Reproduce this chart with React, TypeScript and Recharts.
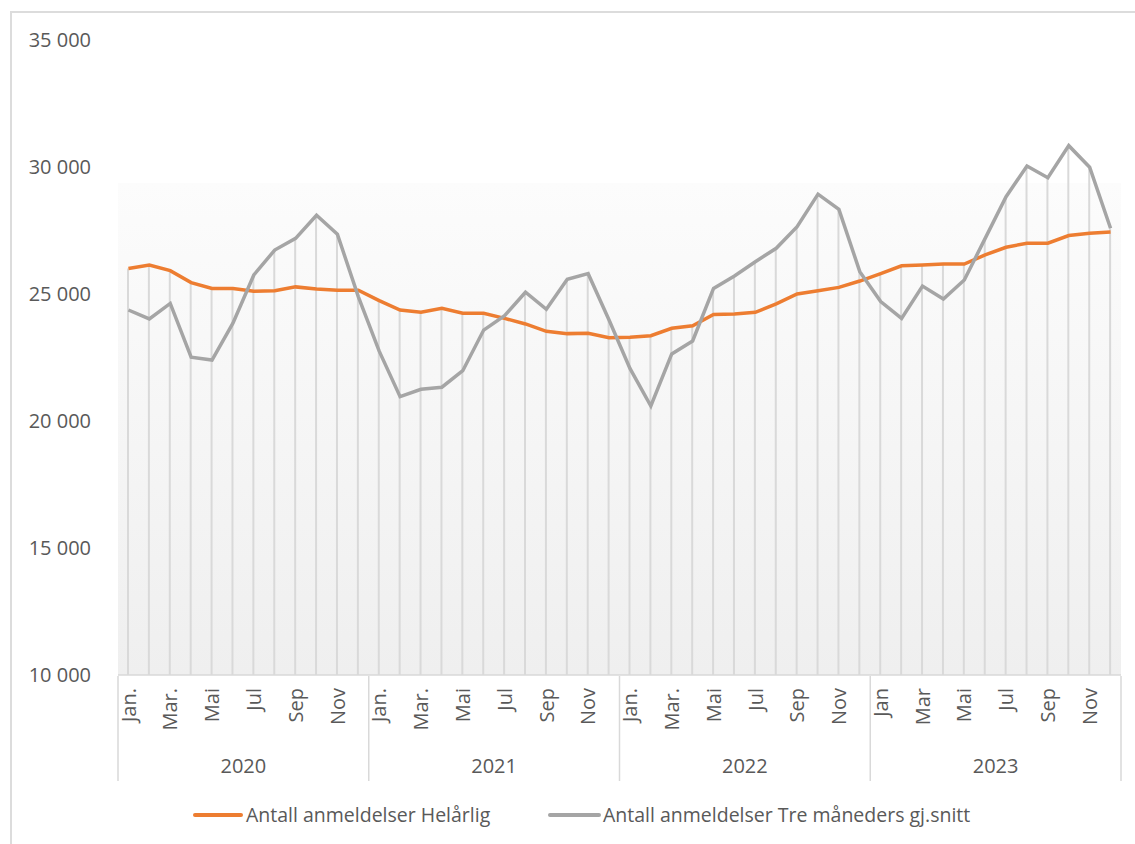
import React from 'react';
import { ComposedChart, Line, Bar, XAxis, YAxis, CartesianGrid, Legend } from 'recharts';

const years = ['2020', '2021', '2022', '2023'];
const monthLabels = ['Jan.', 'Feb.', 'Mar.', 'Apr.', 'Mai', 'Jun', 'Jul', 'Aug', 'Sep', 'Okt', 'Nov', 'Des'];
const monthLabels2023 = ['Jan', 'Feb', 'Mar', 'Apr', 'Mai', 'Jun', 'Jul', 'Aug', 'Sep', 'Okt', 'Nov', 'Des'];

const helarlig = [
  26000, 26140, 25920, 25450, 25220, 25220, 25110, 25130, 25280, 25200, 25150, 25150,
  24740, 24370, 24280, 24440, 24240, 24240, 24040, 23820, 23530, 23440, 23450, 23280,
  23300, 23360, 23650, 23750, 24190, 24210, 24280, 24610, 25000, 25130, 25260, 25510,
  25800, 26110, 26140, 26180, 26180, 26540, 26840, 27000, 27000, 27300, 27390, 27440,
];
const treMnd = [
  24370, 24020, 24630, 22510, 22400, 23850, 25750, 26730, 27190, 28100, 27350, 24900,
  22750, 20960, 21250, 21330, 21980, 23580, 24150, 25070, 24400, 25580, 25800, 23980,
  22070, 20590, 22640, 23150, 25220, 25710, 26270, 26800, 27650, 28930, 28330, 25880,
  24700, 24040, 25310, 24800, 25550, 27190, 28830, 30040, 29580, 30840, 29990, 27590,
];
const seriesNames = ['Antall anmeldelser Helårlig', 'Antall anmeldelser Tre måneders gj.snitt'];
const yTicks = [10000, 15000, 20000, 25000, 30000, 35000];

const data = helarlig.map((h, i) => ({
  key: `${years[Math.floor(i / 12)]}-${i % 12}`,
  helarlig: h,
  treMnd: treMnd[i],
  top: Math.max(h, treMnd[i]),
}));

const FONT = '"Open Sans", sans-serif';
const TEXT = '#595959';
const ORANGE = '#ED7D31';
const GRAY = '#A5A5A5';
const LINE_GRAY = '#d9d9d9';

const fmt = (v: number) => `${Math.floor(v / 1000)} ${String(v % 1000).padStart(3, '0')}`;

const XTick = (props: any) => {
  const { x, y, index, payload } = props;
  const half = payload && typeof payload.offset === 'number' && payload.offset > 0 ? payload.offset : 10.44;
  const yi = Math.floor(index / 12);
  const m = index % 12;
  const label = yi === 3 ? monthLabels2023[m] : monthLabels[m];
  return (
    <g>
      {m % 2 === 0 && (
        <text
          transform={`translate(${x},${y + 13}) rotate(-90)`}
          textAnchor="end"
          dy="0.36em"
          fill={TEXT}
          fontSize={20}
          fontFamily={FONT}
        >
          {label}
        </text>
      )}
      {m === 0 && <line x1={x - half} x2={x - half} y1={y + 1} y2={y + 106} stroke={LINE_GRAY} strokeWidth={1.5} />}
      {index === data.length - 1 && (
        <line x1={x + half} x2={x + half} y1={y + 1} y2={y + 106} stroke={LINE_GRAY} strokeWidth={1.5} />
      )}
      {m === 5 && (
        <text x={x + half} y={y + 98} textAnchor="middle" fill={TEXT} fontSize={20} fontFamily={FONT}>
          {years[yi]}
        </text>
      )}
    </g>
  );
};

const LegendContent = () => (
  <div style={{ position: 'relative', width: 1135, height: 26, fontFamily: FONT, fontSize: 19.5, color: TEXT }}>
    <div style={{ position: 'absolute', left: 193, top: 11, width: 50, height: 4, background: ORANGE, borderRadius: 2 }} />
    <span style={{ position: 'absolute', left: 246, top: 0, lineHeight: '26px', whiteSpace: 'nowrap' }}>{seriesNames[0]}</span>
    <div style={{ position: 'absolute', left: 548, top: 11, width: 53, height: 4, background: GRAY, borderRadius: 2 }} />
    <span style={{ position: 'absolute', left: 603, top: 0, lineHeight: '26px', whiteSpace: 'nowrap' }}>{seriesNames[1]}</span>
  </div>
);

export default function App() {
  return (
    <div style={{ position: 'absolute', left: 0, top: 0, width: 1135, height: 844, background: '#fff', overflow: 'hidden' }}>
      <div
        style={{
          position: 'absolute',
          left: 10,
          top: 11,
          width: 1300,
          height: 1000,
          borderLeft: '2px solid #dcdcdc',
          borderTop: '2px solid #dcdcdc',
        }}
      />
      <div style={{ position: 'absolute', left: 0, top: 0 }}>
        <ComposedChart
          width={1135}
          height={844}
          data={data}
          margin={{ top: 40, right: 14, bottom: 59, left: 0 }}
          style={{ fontFamily: FONT }}
        >
          <defs>
            <linearGradient id="plotBg" x1="0" y1="0" x2="0" y2="1">
              <stop offset="0" stopColor="#ffffff" stopOpacity={0} />
              <stop offset="0.2249" stopColor="#ffffff" stopOpacity={0} />
              <stop offset="0.225" stopColor="#fcfcfc" stopOpacity={1} />
              <stop offset="1" stopColor="#efefef" stopOpacity={1} />
            </linearGradient>
          </defs>
          <CartesianGrid horizontal={false} vertical={false} fill="url(#plotBg)" stroke="none" />
          <XAxis
            dataKey="key"
            interval={0}
            height={110}
            tickLine={false}
            tickSize={0}
            tickMargin={0}
            axisLine={{ stroke: LINE_GRAY, strokeWidth: 1.5 }}
            tick={<XTick />}
          />
          <YAxis
            domain={[10000, 35000]}
            ticks={yTicks}
            width={118}
            axisLine={false}
            tickLine={false}
            tickSize={0}
            tickMargin={27}
            tickFormatter={fmt}
            tick={{ fill: TEXT, fontSize: 20, fontFamily: FONT }}
          />
          <Bar dataKey="top" barSize={2} fill={LINE_GRAY} isAnimationActive={false} legendType="none" />
          <Line
            type="linear"
            dataKey="helarlig"
            name={seriesNames[0]}
            stroke={ORANGE}
            strokeWidth={3.5}
            dot={false}
            activeDot={false}
            isAnimationActive={false}
          />
          <Line
            type="linear"
            dataKey="treMnd"
            name={seriesNames[1]}
            stroke={GRAY}
            strokeWidth={3.5}
            dot={false}
            activeDot={false}
            isAnimationActive={false}
          />
          <Legend
            layout="horizontal"
            verticalAlign="middle"
            align="center"
            wrapperStyle={{ top: 802, left: 0, width: 1135, height: 26 }}
            content={<LegendContent />}
          />
        </ComposedChart>
      </div>
    </div>
  );
}
